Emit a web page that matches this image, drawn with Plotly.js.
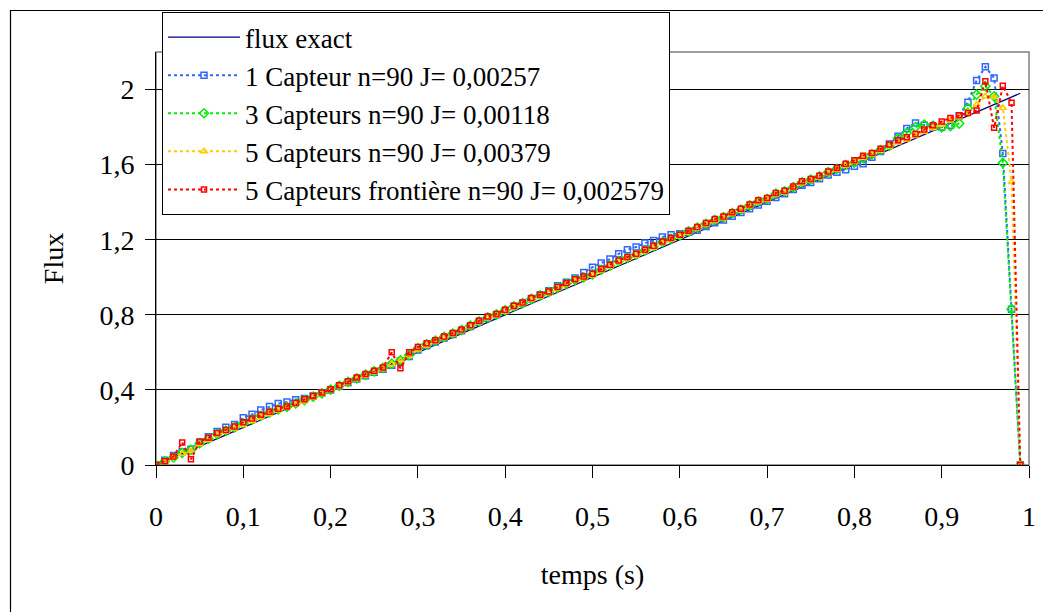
<!DOCTYPE html>
<html>
<head>
<meta charset="utf-8">
<script src="https://cdn.plot.ly/plotly-3.0.1.min.js"></script>
<style>html,body{margin:0;padding:0;background:#fff;}#chart{width:1043px;height:612px;}</style>
</head>
<body>
<div id="chart"></div>
<script>
const temps = [0,0.01,0.02,0.03,0.04,0.05,0.06,0.07,0.08,0.09,
0.1,0.11,0.12,0.13,0.14,0.15,0.16,0.17,0.18,0.19,
0.2,0.21,0.22,0.23,0.24,0.25,0.26,0.27,0.28,0.29,
0.3,0.31,0.32,0.33,0.34,0.35,0.36,0.37,0.38,0.39,
0.4,0.41,0.42,0.43,0.44,0.45,0.46,0.47,0.48,0.49,
0.5,0.51,0.52,0.53,0.54,0.55,0.56,0.57,0.58,0.59,
0.6,0.61,0.62,0.63,0.64,0.65,0.66,0.67,0.68,0.69,
0.7,0.71,0.72,0.73,0.74,0.75,0.76,0.77,0.78,0.79,
0.8,0.81,0.82,0.83,0.84,0.85,0.86,0.87,0.88,0.89,
0.9,0.91,0.92,0.93,0.94,0.95,0.96,0.97,0.98,0.99];

const fluxExact = [0,0.02,0.04,0.06,0.08,0.1,0.12,0.14,0.16,0.18,
0.2,0.22,0.24,0.26,0.28,0.3,0.32,0.34,0.36,0.38,
0.4,0.42,0.44,0.46,0.48,0.5,0.52,0.54,0.56,0.58,
0.6,0.62,0.64,0.66,0.68,0.7,0.72,0.74,0.76,0.78,
0.8,0.82,0.84,0.86,0.88,0.9,0.92,0.94,0.96,0.98,
1,1.02,1.04,1.06,1.08,1.1,1.12,1.14,1.16,1.18,
1.2,1.22,1.24,1.26,1.28,1.3,1.32,1.34,1.36,1.38,
1.4,1.42,1.44,1.46,1.48,1.5,1.52,1.54,1.56,1.58,
1.6,1.62,1.64,1.66,1.68,1.7,1.72,1.74,1.76,1.78,
1.8,1.82,1.84,1.86,1.88,1.9,1.92,1.94,1.96,1.98];

const capteur1 = [0,0.025,0.05,0.07,0.084,0.12,0.15,0.178,0.201,0.216,
0.252,0.27,0.293,0.311,0.327,0.336,0.348,0.354,0.368,0.384,
0.4,0.42,0.44,0.458,0.476,0.494,0.51,0.532,0.552,0.578,
0.612,0.635,0.655,0.676,0.695,0.715,0.738,0.76,0.782,0.8,
0.822,0.844,0.862,0.885,0.905,0.928,0.955,0.974,0.996,1.026,
1.054,1.076,1.097,1.125,1.147,1.161,1.182,1.196,1.214,1.227,
1.232,1.24,1.25,1.27,1.29,1.305,1.325,1.345,1.365,1.385,
1.405,1.425,1.445,1.468,1.49,1.505,1.525,1.545,1.56,1.573,
1.591,1.605,1.64,1.67,1.71,1.751,1.792,1.822,1.81,1.8,
1.8,1.81,1.86,1.932,2.048,2.121,2.062,1.659,0.83,0];

const capteurs3 = [0,0.02,0.04,0.065,0.08,0.115,0.14,0.165,0.183,0.2,
0.222,0.242,0.262,0.28,0.296,0.31,0.328,0.346,0.364,0.382,
0.402,0.422,0.443,0.462,0.481,0.499,0.517,0.54,0.558,0.585,
0.622,0.643,0.662,0.682,0.7,0.719,0.742,0.765,0.787,0.802,
0.824,0.845,0.862,0.885,0.903,0.921,0.944,0.965,0.986,1,
1.015,1.04,1.062,1.086,1.104,1.121,1.143,1.164,1.187,1.205,
1.223,1.244,1.264,1.285,1.305,1.32,1.342,1.361,1.383,1.405,
1.418,1.445,1.457,1.48,1.506,1.52,1.537,1.56,1.578,1.598,
1.612,1.635,1.655,1.678,1.7,1.74,1.769,1.8,1.813,1.808,
1.799,1.805,1.819,1.9,1.973,2.018,1.964,1.609,0.83,0];

const capteurs5 = [0,0.015,0.04,0.06,0.075,0.11,0.135,0.16,0.178,0.195,
0.215,0.235,0.255,0.272,0.29,0.305,0.322,0.34,0.36,0.378,
0.398,0.418,0.438,0.458,0.476,0.494,0.512,0.537,0.555,0.58,
0.615,0.637,0.656,0.676,0.695,0.714,0.737,0.76,0.782,0.797,
0.818,0.84,0.857,0.88,0.898,0.916,0.939,0.96,0.981,0.995,
1.01,1.035,1.057,1.081,1.099,1.116,1.138,1.159,1.182,1.2,
1.218,1.239,1.259,1.28,1.3,1.315,1.337,1.356,1.378,1.4,
1.413,1.44,1.452,1.475,1.501,1.515,1.532,1.555,1.573,1.595,
1.613,1.638,1.652,1.674,1.697,1.718,1.734,1.752,1.775,1.795,
1.812,1.835,1.852,1.876,1.92,1.964,1.96,1.902,1.508,0];

const capteurs5Frontiere = [0,0.02,0.045,0.12,0.03,0.125,0.145,0.17,0.187,0.205,
0.228,0.248,0.268,0.284,0.3,0.312,0.33,0.35,0.368,0.386,
0.404,0.425,0.446,0.466,0.485,0.502,0.52,0.6,0.515,0.6,
0.628,0.648,0.665,0.685,0.703,0.722,0.745,0.768,0.791,0.805,
0.827,0.848,0.866,0.889,0.907,0.924,0.948,0.969,0.99,1.004,
1.019,1.044,1.067,1.09,1.108,1.125,1.147,1.168,1.191,1.209,
1.227,1.248,1.268,1.289,1.31,1.324,1.346,1.365,1.387,1.41,
1.422,1.449,1.461,1.484,1.511,1.524,1.541,1.564,1.582,1.605,
1.623,1.648,1.662,1.684,1.707,1.73,1.746,1.763,1.787,1.81,
1.83,1.849,1.863,1.875,1.888,2.044,1.796,2.02,1.93,0];

const seriesNames = [
  "flux exact",
  "1 Capteur n=90 J= 0,00257",
  "3 Capteurs n=90 J= 0,00118",
  "5 Capteurs n=90 J= 0,00379",
  "5 Capteurs frontière n=90 J= 0,002579"
];
const yTickVals = [0,0.4,0.8,1.2,1.6,2];
const xTickVals = [0,0.1,0.2,0.3,0.4,0.5,0.6,0.7,0.8,0.9,1];

const FONT = "Liberation Serif, DejaVu Serif, Liberation Sans, sans-serif";

function dotted(name, y, color, symbol, size) {
  return {
    x: temps, y: y, name: name, type: 'scatter', mode: 'lines+markers',
    line: {color: color, width: 2, dash: 'dot'},
    marker: {symbol: symbol, size: size, color: color, line: {color: color, width: 1.5}}
  };
}

const traces = [
  {x: temps, y: fluxExact, name: seriesNames[0], type: 'scatter', mode: 'lines',
   line: {color: '#000080', width: 1.2}},
  dotted(seriesNames[1], capteur1, '#3366FF', 'square-open', 6),
  dotted(seriesNames[2], capteurs3, '#00EE00', 'diamond-open', 7),
  dotted(seriesNames[3], capteurs5, '#FFCC00', 'triangle-up-open', 6),
  dotted(seriesNames[4], capteurs5Frontiere, '#FF0000', 'square-open', 5)
];

const L = 156, R = 14, T = 52, B = 147, W = 1043, H = 612;
const pw = W - L - R, ph = H - T - B;
const px = v => (v - L) / pw;
const py = v => (H - B - v) / ph;

const layout = {
  width: W, height: H,
  margin: {l: L, r: R, t: T, b: B, pad: 0},
  paper_bgcolor: '#fff', plot_bgcolor: '#fff',
  separators: ', ',
  font: {family: FONT, size: 28, color: '#000'},
  showlegend: true,
  legend: {
    x: px(162), y: py(12), xanchor: 'left', yanchor: 'top',
    bgcolor: '#fff', bordercolor: '#000', borderwidth: 1,
    font: {family: FONT, size: 27, color: '#000'},
    itemwidth: 72, tracegroupgap: 0
  },
  xaxis: {
    range: [0, 1], tickvals: xTickVals, ticks: 'outside', ticklen: 12, tickwidth: 1,
    tickcolor: '#000', showline: true, linecolor: '#000', linewidth: 1,
    showgrid: false, zeroline: false, automargin: false,
    tickfont: {family: FONT, size: 28, color: '#000'}, ticklabelstandoff: 14,
    title: {text: 'temps (s)', font: {family: FONT, size: 28, color: '#000'}, standoff: 33}
  },
  yaxis: {
    range: [0, 2.2], tickvals: yTickVals, ticks: 'outside', ticklen: 10, tickwidth: 1,
    tickcolor: '#000', showline: true, linecolor: '#000', linewidth: 1,
    showgrid: true, gridcolor: '#000', gridwidth: 1, zeroline: false, automargin: false,
    tickfont: {family: FONT, size: 28, color: '#000'}, ticklabelstandoff: 5,
    title: {text: 'Flux', font: {family: FONT, size: 28, color: '#000'}, standoff: 27}
  },
  shapes: [
    {type: 'rect', xref: 'paper', yref: 'paper', x0: 0, x1: 1, y0: 0, y1: 1,
     line: {color: '#808080', width: 1.5}, layer: 'below'},
    {type: 'rect', xref: 'paper', yref: 'paper', x0: px(10.5), x1: px(1060), y0: py(10.5), y1: py(640),
     line: {color: '#000', width: 1.2}, layer: 'below'}
  ]
};

Plotly.newPlot('chart', traces, layout, {staticPlot: true, displayModeBar: false});
</script>
</body>
</html>
